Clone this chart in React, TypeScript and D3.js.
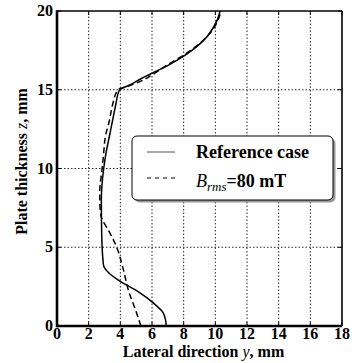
import React from 'react';
import * as d3 from 'd3';

// thickness positions (mm) and lateral position of the profile (mm)
const refZ = [0, 0.4, 0.85, 1.45, 2.2, 2.9, 3.45, 3.8, 4.5, 6, 8, 10, 11, 12, 13, 14, 15, 15.3, 15.7, 16, 16.6, 17.2, 17.8, 18.4, 19, 19.5, 20];
const refY = [6.9, 6.85, 6.7, 6.1, 5.1, 3.9, 3.2, 2.95, 2.88, 2.82, 2.8, 2.95, 3.1, 3.3, 3.5, 3.7, 3.95, 4.6, 5.3, 5.9, 7.1, 8.1, 8.9, 9.5, 9.9, 10.15, 10.3];

const magZ = [0, 0.9, 2.3, 3.55, 5, 6.1, 6.85, 7.5, 8.5, 10, 11, 12, 13, 14, 15, 15.2, 15.5, 16, 16.6, 17.2, 17.8, 18.4, 19, 19.5, 20];
const magY = [5.3, 5.0, 4.5, 4.2, 3.77, 3.24, 2.82, 2.72, 2.7, 2.85, 2.95, 3.05, 3.3, 3.5, 3.85, 4.4, 5.2, 6.1, 7.0, 8.0, 8.85, 9.5, 9.95, 10.2, 10.35];

const xTicks = [0, 2, 4, 6, 8, 10, 12, 14, 16, 18];
const yTicks = [0, 5, 10, 15, 20];

const W = 352;
const H = 363;
const margin = { top: 11, right: 10, bottom: 37, left: 57 };
const font = 'Liberation Serif, DejaVu Serif, serif';

export default function App() {
  const x = d3.scaleLinear().domain([0, 18]).range([margin.left, W - margin.right]);
  const y = d3.scaleLinear().domain([0, 20]).range([H - margin.bottom, margin.top]);

  const line = d3.line<[number, number]>()
    .x(d => x(d[0]))
    .y(d => y(d[1]))
    .curve(d3.curveMonotoneY);

  const refPath = line(refZ.map((z, i) => [refY[i], z]) as [number, number][]) || '';
  const magPath = line(magZ.map((z, i) => [magY[i], z]) as [number, number][]) || '';

  const x0 = x(0), x1 = x(18), y0 = y(0), y1 = y(20);

  // legend box
  const lg = { x: 132, y: 136, w: 201, h: 64 };

  return (
    <svg width={W} height={H} style={{ position: 'absolute', left: 0, top: 0 }}>
      <rect width={W} height={H} fill="#fff" />
      {/* grid */}
      <g stroke="#000" strokeWidth={1} strokeDasharray="1.5,2" opacity={0.85}>
        {xTicks.slice(1, -1).map(t => (
          <line key={'gx' + t} x1={x(t)} x2={x(t)} y1={y0} y2={y1} />
        ))}
        {yTicks.slice(1, -1).map(t => (
          <line key={'gy' + t} x1={x0} x2={x1} y1={y(t)} y2={y(t)} />
        ))}
      </g>
      {/* ticks */}
      <g stroke="#000" strokeWidth={1}>
        {xTicks.map(t => (
          <g key={'tx' + t}>
            <line x1={x(t)} x2={x(t)} y1={y0} y2={y0 - 4} />
            <line x1={x(t)} x2={x(t)} y1={y1} y2={y1 + 4} />
          </g>
        ))}
        {yTicks.map(t => (
          <g key={'ty' + t}>
            <line x1={x0} x2={x0 + 4} y1={y(t)} y2={y(t)} />
            <line x1={x1} x2={x1 - 4} y1={y(t)} y2={y(t)} />
          </g>
        ))}
      </g>
      {/* curves */}
      <path d={refPath} fill="none" stroke="#000" strokeWidth={1.5} />
      <path d={magPath} fill="none" stroke="#000" strokeWidth={1.5} strokeDasharray="6,3.5" />
      {/* spines */}
      <line x1={x0} x2={x1} y1={y1} y2={y1} stroke="#000" strokeWidth={1.6} />
      <line x1={x1} x2={x1} y1={y0} y2={y1} stroke="#000" strokeWidth={1.6} />
      <line x1={x0} x2={x1} y1={y0} y2={y0} stroke="#000" strokeWidth={2.6} />
      <line x1={x0} x2={x0} y1={y0 + 1.3} y2={y1 - 0.8} stroke="#000" strokeWidth={2.6} />
      {/* tick labels */}
      <g style={{ fontFamily: font }} fontWeight="bold" fontSize={16} fill="#000">
        {xTicks.map(t => (
          <text key={'lx' + t} x={x(t)} y={y0 + 13} textAnchor="middle">{t}</text>
        ))}
        {yTicks.map(t => (
          <text key={'ly' + t} x={x0 - 4} y={y(t) + 5} textAnchor="end">{t}</text>
        ))}
      </g>
      {/* axis labels */}
      <text x={(x0 + x1) / 2 + 4} y={H - 6} textAnchor="middle" style={{ fontFamily: font }} fontWeight="bold" fontSize={16}>
        Lateral direction <tspan fontStyle="italic" fontWeight="normal">y</tspan>, mm
      </text>
      <text transform={`translate(27,${(y0 + y1) / 2 - 7}) rotate(-90)`} textAnchor="middle" style={{ fontFamily: font }} fontWeight="bold" fontSize={16}>
        Plate thickness <tspan fontStyle="italic" fontWeight="normal">z</tspan>, mm
      </text>
      {/* legend */}
      <rect x={lg.x + 2.5} y={lg.y + 2.5} width={lg.w} height={lg.h} rx={5} fill="#999" />
      <rect x={lg.x} y={lg.y} width={lg.w} height={lg.h} rx={5} fill="#fff" stroke="#000" strokeWidth={1} />
      <line x1={147} x2={175} y1={152} y2={152} stroke="#555" strokeWidth={1} />
      <line x1={147} x2={175} y1={178} y2={178} stroke="#000" strokeWidth={1} strokeDasharray="4,4" />
      <text x={196} y={158} style={{ fontFamily: font }} fontWeight="bold" fontSize={18}>Reference case</text>
      <text x={196} y={187} style={{ fontFamily: font }} fontWeight="bold" fontSize={18}>
        <tspan fontStyle="italic" fontWeight="normal">B</tspan>
        <tspan fontStyle="italic" fontWeight="normal" fontSize={13} dy={4}>rms</tspan>
        <tspan dy={-4}>=80 mT</tspan>
      </text>
    </svg>
  );
}
